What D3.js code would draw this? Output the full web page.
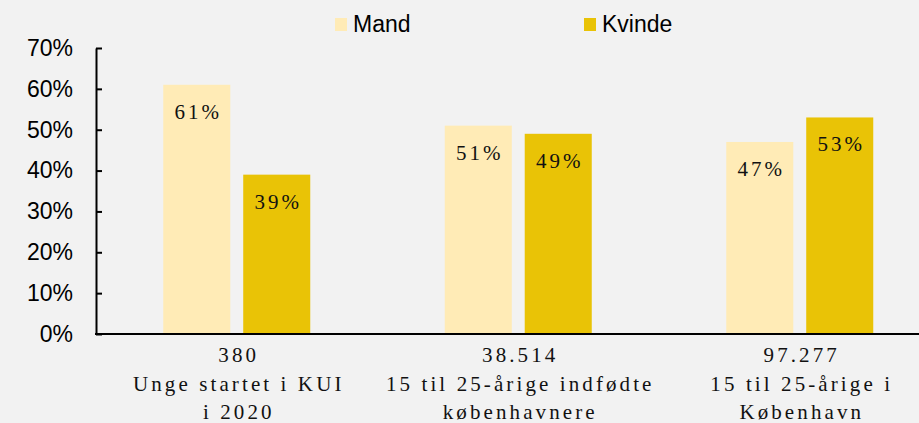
<!DOCTYPE html>
<html>
<head>
<meta charset="utf-8">
<script src="https://cdn.jsdelivr.net/npm/d3@7"></script>
<style>
  body { margin: 0; background: #f2f2f2; }
  svg { display: block; }
</style>
</head>
<body>
<script>
var categories = [
  ["380", "Unge startet i KUI", "i 2020"],
  ["38.514", "15 til 25-årige indfødte", "københavnere"],
  ["97.277", "15 til 25-årige i", "København"]
];
var seriesNames = ["Mand", "Kvinde"];
var mand = [0.61, 0.51, 0.47];
var kvinde = [0.39, 0.49, 0.53];
var yTicks = [0, 0.1, 0.2, 0.3, 0.4, 0.5, 0.6, 0.7];
var colors = ["#ffebb6", "#e9c306"];

var W = 919, H = 423;
var svg = d3.select("body").append("svg").attr("width", W).attr("height", H);
svg.append("rect").attr("width", W).attr("height", H).attr("fill", "#f2f2f2");

var plotLeft = 96, plotBottom = 334, plotTop = 48;
var x0 = d3.scaleBand().domain(d3.range(categories.length)).range([plotLeft, plotLeft + 3 * 281.5]);
var x1 = d3.scaleBand().domain(seriesNames).range([0, 147]).paddingInner(0.162);
var y = d3.scaleLinear().domain([0, 0.7]).range([plotBottom, plotTop]);

var rows = categories.map(function(c, i) {
  return { i: i, vals: [{ s: "Mand", v: mand[i] }, { s: "Kvinde", v: kvinde[i] }] };
});

var g = svg.selectAll(".grp").data(rows).enter().append("g")
  .attr("transform", function(d) { return "translate(" + (x0(d.i) + (x0.bandwidth() - 147) / 2) + ",0)"; });

g.selectAll("rect").data(function(d) { return d.vals; }).enter().append("rect")
  .attr("x", function(d) { return x1(d.s); })
  .attr("y", function(d) { return y(d.v); })
  .attr("width", x1.bandwidth())
  .attr("height", function(d) { return plotBottom - y(d.v); })
  .attr("fill", function(d, i) { return colors[i]; });

g.selectAll("text.val").data(function(d) { return d.vals; }).enter().append("text")
  .attr("class", "val")
  .attr("x", function(d) { return x1(d.s) + x1.bandwidth() / 2 + 1.5; })
  .attr("y", function(d) { return y(d.v) + 34; })
  .attr("text-anchor", "middle")
  .style("font-family", "'Liberation Serif', 'Times New Roman', serif")
  .style("font-size", "21px")
  .style("letter-spacing", "3px")
  .attr("fill", "#111")
  .text(function(d) { return Math.round(d.v * 100) + "%"; });

// y axis
var yAxis = d3.axisLeft(y).tickValues(yTicks).tickFormat(d3.format(".0%")).tickSizeInner(-6).tickSizeOuter(0).tickPadding(23);
var ya = svg.append("g").attr("transform", "translate(" + plotLeft + ",0)").call(yAxis);
ya.select(".domain").attr("stroke", "#000").attr("stroke-width", 2);
ya.selectAll(".tick line").attr("stroke", "#000").attr("stroke-width", 2);
ya.selectAll(".tick text")
  .style("font-family", "'Liberation Sans', Arial, sans-serif")
  .style("font-size", "23px")
  .attr("fill", "#000");

// x axis line
svg.append("line").attr("x1", plotLeft - 1).attr("x2", W).attr("y1", plotBottom).attr("y2", plotBottom)
  .attr("stroke", "#000").attr("stroke-width", 2);

// category labels
var cl = svg.selectAll(".cat").data(categories).enter().append("text")
  .attr("class", "cat")
  .attr("text-anchor", "middle")
  .style("font-family", "'Liberation Serif', 'Times New Roman', serif")
  .style("font-size", "21px")
  .style("letter-spacing", "3.1px")
  .attr("fill", "#111");
cl.selectAll("tspan").data(function(d, i) { return d.map(function(t) { return { t: t, i: i }; }); })
  .enter().append("tspan")
  .attr("x", function(d) { return x0(d.i) + x0.bandwidth() / 2 + 2; })
  .attr("y", function(d, j) { return 362 + j * 28.5; })
  .text(function(d) { return d.t; });

// legend
var legX = [335, 584];
var lg = svg.selectAll(".leg").data(seriesNames).enter().append("g")
  .attr("transform", function(d, i) { return "translate(" + legX[i] + ",18)"; });
lg.append("rect").attr("width", 12).attr("height", 13).attr("fill", function(d, i) { return colors[i]; });
lg.append("text").attr("x", 18).attr("y", 14)
  .style("font-family", "'Liberation Sans', Arial, sans-serif")
  .style("font-size", "23px")
  .attr("fill", "#000")
  .text(function(d) { return d; });
</script>
</body>
</html>
